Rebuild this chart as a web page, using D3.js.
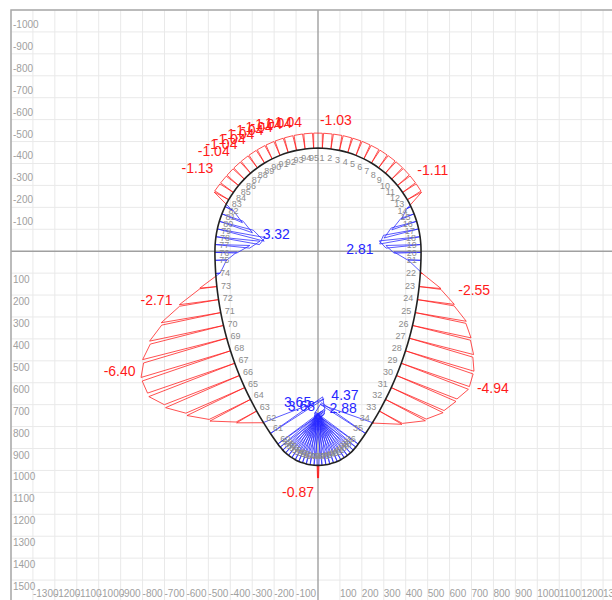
<!DOCTYPE html>
<html>
<head>
<meta charset="utf-8">
<title>Lining internal forces</title>
<script src="https://cdn.jsdelivr.net/npm/d3@7/dist/d3.min.js"></script>
<style>
    body { margin: 0; background: #fff; }
    svg { display: block; font-family: "Liberation Sans", Arial, sans-serif; }
</style>
</head>
<body>
<svg id="chart" width="612" height="600"></svg>
<script>
// tick labels, model units (y grows downwards)
const xTickLabels = [-1300, -1200, -1100, -1000, -900, -800, -700, -600, -500, -400, -300, -200, -100,
    100, 200, 300, 400, 500, 600, 700, 800, 900, 1000, 1100, 1200, 1300];
const yTickLabels = [-1000, -900, -800, -700, -600, -500, -400, -300, -200, -100,
    100, 200, 300, 400, 500, 600, 700, 800, 900, 1000, 1100, 1200, 1300, 1400, 1500];

// lining: crown arc, side arcs tangent to it, small invert arc
const crownRadius = 470;
const invertRadius = 220;
const invertDepth = 977;

// mesh of the right half, arc length from the crown (left half is mirrored: node n <-> 96 - n)
const meshZones = [
    { first: 1, last: 13, start: 19.7, step: 39.4 },
    { first: 14, last: 21, start: 528, step: 36 },
    { first: 22, last: 35, start: 840, step: 60 },
    { first: 36, last: 48, start: 1678.6, step: 18 }
];

// internal force at nodes 1..95
const nodeValues = [
    -1.03, -1.03, -1.04, -1.04, -1.05, -1.05, -1.06, -1.06, -1.07, -1.08,   // 1-10
    -1.09, -1.10, -1.11, 0.30, 0.95, 1.80, 2.45, 2.81, 2.40, 1.85,          // 11-20
    0.90, -0.15, -1.50, -2.55, -3.55, -4.10, -4.55, -4.90, -4.94, -4.45,    // 21-30
    -3.95, -3.10, -1.80, -0.10, 3.68, 3.65, 3.55, 3.50, 3.45, 3.40,         // 31-40
    3.35, 3.30, 3.25, 3.20, 3.15, 3.05, 2.80, -0.87, 2.88, 3.10,            // 41-50
    3.20, 3.25, 3.30, 3.40, 3.45, 3.55, 3.60, 3.70, 3.80, 3.95,             // 51-60
    4.37, -0.05, -1.60, -3.15, -4.40, -5.53, -6.32, -6.40, -5.95, -5.18,    // 61-70
    -4.14, -2.71, -1.17, 0.30, 0.80, 1.50, 2.38, 3.03, 3.32, 2.40,          // 71-80
    1.53, 0.58, -1.13, -1.09, -1.06, -1.05, -1.04, -1.04, -1.04, -1.04,     // 81-90
    -1.04, -1.04, -1.04, -1.04, -1.04                                       // 91-95
];

// nodes whose value is written on the diagram
const valueLabelNodes = [1, 13, 18, 24, 29, 35, 36, 48, 49, 61, 68, 72, 79, 83, 87, 88, 89, 90, 91, 92, 93, 94, 95];

// hand placement of those labels, px
const labelNudge = {
    1: [-5, -5], 13: [-6, -14], 83: [1, -15], 18: [-4, 15], 24: [2, -7], 29: [6, 8],
    68: [-4, 0], 72: [-5, 3], 79: [-4, 3], 35: [-4, 11], 36: [-2, -2], 48: [-2, 22],
    49: [10, -7], 61: [6, 5]
};

const diagramScale = 66.5;   // model units per unit of force
const RED = '#ff1a1a';
const BLUE = '#2626ff';

class LiningChart {
    static liningAt(s) {
        const r1 = crownRadius, r3 = invertRadius;
        const c3 = invertDepth - r3;
        const r2 = (c3 * c3 + r1 * r1 - r3 * r3) / (2 * (r1 - r3));
        const c2 = r2 - r1;
        const l1 = Math.PI / 2 * r1;
        const phiEnd = Math.atan2(c3, c2);
        const l2 = r2 * phiEnd;
        let a;
        if (s <= l1) {
            a = s / r1 - Math.PI / 2;
            return { x: r1 * Math.cos(a), y: r1 * Math.sin(a), nx: Math.cos(a), ny: Math.sin(a) };
        }
        if (s <= l1 + l2) {
            a = (s - l1) / r2;
            return { x: -c2 + r2 * Math.cos(a), y: r2 * Math.sin(a), nx: Math.cos(a), ny: Math.sin(a) };
        }
        a = Math.min(phiEnd + (s - l1 - l2) / r3, Math.PI / 2);
        return { x: r3 * Math.cos(a), y: c3 + r3 * Math.sin(a), nx: Math.cos(a), ny: Math.sin(a) };
    }

    static buildNodes() {
        const right = [];
        meshZones.forEach(z => {
            for (let n = z.first; n <= z.last; n++) {
                right[n] = this.liningAt(z.start + (n - z.first) * z.step);
            }
        });
        const count = nodeValues.length;
        return nodeValues.map((v, i) => {
            const id = i + 1;
            if (id <= 48) return { id, v, ...right[id] };
            const m = right[count + 1 - id];
            return { id, v, x: -m.x, y: m.y, nx: -m.nx, ny: m.ny };
        });
    }

    static drawFrame(svg, x, y) {
        const grid = svg.append('g');
        grid.selectAll('line.gx')
            .data(d3.range(-1400, 1401, 100).filter(d => d !== 0))
            .join('line')
            .attr('x1', d => x(d)).attr('x2', d => x(d))
            .attr('y1', y(-1100)).attr('y2', y(1600))
            .attr('stroke', '#e9e9e9').attr('stroke-width', 1);
        grid.selectAll('line.gy')
            .data(d3.range(-1100, 1601, 100).filter(d => d !== 0))
            .join('line')
            .attr('y1', d => y(d)).attr('y2', d => y(d))
            .attr('x1', x(-1400)).attr('x2', x(1400))
            .attr('stroke', '#e9e9e9').attr('stroke-width', 1);

        // axes through the origin
        svg.append('line')
            .attr('x1', x(0)).attr('x2', x(0)).attr('y1', y(-1100)).attr('y2', y(1600))
            .attr('stroke', '#a0a0a0').attr('stroke-width', 1.4);
        svg.append('line')
            .attr('x1', x(-1400)).attr('x2', x(1400)).attr('y1', y(0)).attr('y2', y(0))
            .attr('stroke', '#a0a0a0').attr('stroke-width', 1.4);

        // plot border
        svg.append('path')
            .attr('d', `M${x(-1400)},${y(1600)}V${y(-1100)}H${x(1400)}`)
            .attr('fill', 'none').attr('stroke', '#a8a8a8').attr('stroke-width', 1.5);

        svg.append('g').selectAll('text')
            .data(yTickLabels)
            .join('text')
            .attr('x', x(-1400) + 2)
            .attr('y', d => d < 0 ? y(d) - 4 : y(d) + 10)
            .attr('font-size', 10).attr('fill', '#a0a0a0')
            .text(d => d);

        svg.append('g').selectAll('text')
            .data(xTickLabels)
            .join('text')
            .attr('x', d => x(d))
            .attr('y', 597)
            .attr('font-size', 10).attr('fill', '#a0a0a0')
            .text(d => d);
    }

    static drawDiagram(svg, x, y, nodes) {
        const line = d3.line().x(p => x(p[0])).y(p => y(p[1]));
        const tip = (node, n) => [node.x - n[0] * node.v * diagramScale, node.y - n[1] * node.v * diagramScale];
        const segments = [];

        nodes.forEach((a, i) => {
            const b = nodes[(i + 1) % nodes.length];
            const dx = b.x - a.x, dy = b.y - a.y;
            const len = Math.hypot(dx, dy);
            const n = [dy / len, -dx / len];   // outward normal of the element
            const ta = tip(a, n), tb = tip(b, n);
            if (a.v * b.v < 0) {
                const t = a.v / (a.v - b.v);
                const c = [a.x + t * dx, a.y + t * dy];
                segments.push({ pts: [[a.x, a.y], ta, c], neg: a.v < 0 });
                segments.push({ pts: [c, tb, [b.x, b.y]], neg: b.v < 0 });
            } else {
                segments.push({ pts: [[a.x, a.y], ta, tb, [b.x, b.y]], neg: a.v + b.v < 0 });
            }
        });

        svg.append('g').selectAll('path')
            .data(segments)
            .join('path')
            .attr('d', d => line(d.pts))
            .attr('fill', 'none')
            .attr('stroke', d => d.neg ? RED : BLUE)
            .attr('stroke-width', 0.9)
            .attr('stroke-opacity', 0.85);
    }

    static drawLining(svg, x, y, nodes) {
        svg.append('path')
            .datum(nodes)
            .attr('d', d3.line().x(d => x(d.x)).y(d => y(d.y)).curve(d3.curveCatmullRomClosed.alpha(0.5)))
            .attr('fill', 'none')
            .attr('stroke', '#222')
            .attr('stroke-width', 1.6);

        svg.append('g').selectAll('text')
            .data(nodes)
            .join('text')
            .attr('x', d => x(d.x - d.nx * 42))
            .attr('y', d => y(d.y - d.ny * 42))
            .attr('dy', '0.35em')
            .attr('text-anchor', 'middle')
            .attr('font-size', 9)
            .attr('fill', '#8c8c8c')
            .text(d => d.id);
    }

    static drawValueLabels(svg, x, y, nodes) {
        const labels = valueLabelNodes.map(id => {
            const d = nodes[id - 1];
            const sign = d.v < 0 ? 1 : -1;
            const ux = d.nx * sign;
            const tx = x(d.x + d.nx * sign * Math.abs(d.v) * diagramScale);
            const ty = y(d.y + d.ny * sign * Math.abs(d.v) * diagramScale);
            const nudge = labelNudge[id] || (id >= 87 ? [-9, -3] : [0, 0]);
            const start = ux > 0.01;
            return {
                text: d.v.toFixed(2),
                x: tx + (start ? 2 : -2) + nudge[0],
                y: ty - 8 + nudge[1],
                anchor: start ? 'start' : 'end',
                color: d.v < 0 ? RED : BLUE
            };
        });

        svg.append('g').selectAll('text')
            .data(labels)
            .join('text')
            .attr('x', d => d.x)
            .attr('y', d => d.y)
            .attr('dy', '0.35em')
            .attr('text-anchor', d => d.anchor)
            .attr('font-size', 14)
            .attr('fill', d => d.color)
            .text(d => d.text);
    }

    static render() {
        try {
            const svg = d3.select('#chart');
            const x = d3.scaleLinear().domain([-1400, 1400]).range([11, 625]);
            const y = d3.scaleLinear().domain([-1100, 1600]).range([10, 602]);
            const nodes = this.buildNodes();

            this.drawFrame(svg, x, y);
            this.drawDiagram(svg, x, y, nodes);
            this.drawLining(svg, x, y, nodes);
            this.drawValueLabels(svg, x, y, nodes);
        } catch (error) {
            console.error('LiningChart.render', error);
        }
    }
}

LiningChart.render();
</script>
</body>
</html>
